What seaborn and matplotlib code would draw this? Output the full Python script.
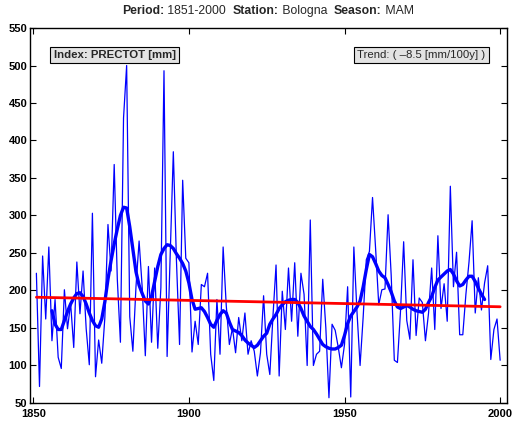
import numpy as np
import matplotlib
matplotlib.use("Agg")
import matplotlib.pyplot as plt
import seaborn as sns

# raw seasonal totals (MAM), 1851-2000
years = np.arange(1851, 2001)
prectot = [223, 72, 246, 162, 258, 133, 188, 111, 96, 201,
           149, 183, 124, 238, 169, 226, 149, 101, 303, 85,
           134, 103, 164, 288, 226, 368, 215, 131, 430, 500,
           165, 119, 205, 266, 204, 113, 232, 131, 230, 123,
           204, 493, 112, 250, 385, 240, 128, 347, 243, 237,
           118, 159, 128, 208, 205, 223, 115, 80, 188, 115,
           258, 180, 128, 150, 117, 164, 133, 170, 115, 133,
           119, 86, 117, 193, 115, 88, 165, 234, 86, 199,
           148, 230, 159, 237, 139, 223, 195, 100, 294, 100,
           115, 119, 215, 150, 57, 155, 147, 124, 97, 128,
           205, 58, 258, 172, 100, 165, 241, 252, 324, 255,
           181, 201, 202, 301, 220, 107, 104, 173, 265, 160,
           135, 241, 140, 190, 184, 133, 170, 230, 148, 273,
           176, 209, 159, 339, 205, 251, 141, 141, 195, 238,
           293, 170, 217, 174, 210, 233, 108, 148, 162, 107]

# smoothed curve
smooth_years = np.arange(1856, 1996)
smooth_vals = [173, 155, 148, 148, 160, 172, 182, 190, 196, 197,
               192, 182, 170, 160, 153, 151, 162, 185, 215, 240,
               262, 282, 300, 311, 310, 285, 255, 225, 207, 196,
               186, 182, 192, 212, 232, 248, 256, 261, 260, 256,
               249, 243, 236, 226, 210, 188, 175, 176, 177, 172,
               164, 155, 151, 160, 168, 173, 170, 158, 148, 146,
               144, 140, 134, 130, 127, 124, 127, 133, 139, 143,
               155, 162, 168, 176, 181, 185, 187, 188, 188, 184,
               176, 166, 159, 152, 148, 142, 135, 128, 125, 123,
               122, 122, 124, 127, 140, 156, 166, 172, 178, 186,
               205, 228, 248, 245, 236, 226, 220, 217, 208, 198,
               186, 178, 176, 178, 180, 178, 175, 173, 172, 171,
               175, 184, 192, 204, 214, 218, 222, 226, 228, 222,
               213, 206, 208, 214, 219, 219, 212, 203, 195, 188]

trend_years = [1851, 2000]
trend_vals = [191, 178.3]

yticks = np.arange(50, 551, 50)
xticks = [1850, 1900, 1950, 2000]

title_parts = [("Period:", "bold"), (" 1851-2000  ", "normal"),
               ("Station:", "bold"), (" Bologna  ", "normal"),
               ("Season:", "bold"), (" MAM", "normal")]

sns.set_style("ticks")
plt.rcParams["font.family"] = ["Liberation Sans", "DejaVu Sans"]

fig = plt.figure(figsize=(5.12, 4.23), dpi=100)
ax = fig.add_axes([0.0586, 0.0473, 0.9316, 0.8865])

sns.lineplot(x=years, y=prectot, color="#0000ff", lw=0.9, ax=ax)
sns.lineplot(x=smooth_years, y=smooth_vals, color="#0000ff", lw=2.4, ax=ax)
sns.lineplot(x=trend_years, y=trend_vals, color="#ff0000", lw=2.0, ax=ax)

ax.set_xlim(1848.95, 2002.2)
ax.set_ylim(50, 550)
ax.set_xticks(xticks)
ax.set_yticks(yticks)
ax.tick_params(direction="in", top=True, right=True, length=4, width=0.8,
               labelsize=8, pad=2, colors="black")
ax.tick_params(axis="x", pad=4)
for lab in ax.get_xticklabels() + ax.get_yticklabels():
    lab.set_fontweight("bold")
for s in ax.spines.values():
    s.set_linewidth(1.0)
    s.set_color("black")
ax.set_xlabel("")
ax.set_ylabel("")

box = dict(boxstyle="square,pad=0.3", facecolor="#e3e3e3", edgecolor="black", lw=0.8)
ax.text(0.05, 0.928, "Index: PRECTOT [mm]", transform=ax.transAxes,
        fontsize=8.2, fontweight="bold", ha="left", va="center", bbox=box)
ax.text(0.955, 0.928, "Trend: ( \u20138.5 [mm/100y] )", transform=ax.transAxes,
        fontsize=8.2, ha="right", va="center", bbox=box)

# title built from pieces so the labels can be bold
renderer = fig.canvas.get_renderer()
pieces = []
total = 0
for txt, w in title_parts:
    t = fig.text(0, 0.975, txt, fontsize=8.8, fontweight=w, ha="left", va="center")
    bb = t.get_window_extent(renderer)
    pieces.append((t, bb.width))
    total += bb.width
x = 268 - total / 2
for t, wd in pieces:
    t.set_x(x / fig.bbox.width)
    x += wd

fig.savefig("out.png", dpi=100)
